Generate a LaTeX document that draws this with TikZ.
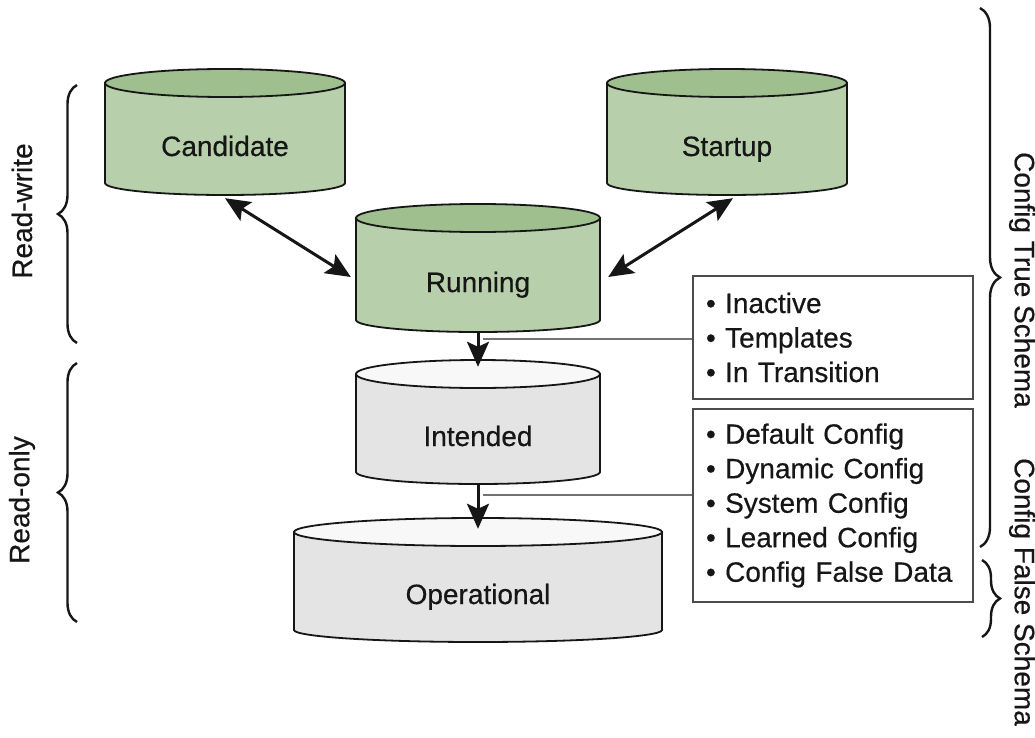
\documentclass[tikz,border=0pt]{standalone}
\usepackage{fontspec}
\setmainfont{Liberation Sans}[FakeBold=0.45]
\usetikzlibrary{arrows.meta,decorations.pathreplacing,fit}

\definecolor{rwbody}{HTML}{B7CFAA}
\definecolor{rwtop}{HTML}{9FBF8F}
\definecolor{robody}{HTML}{E4E4E4}
\definecolor{rotop}{HTML}{F8F8F8}
\definecolor{ink}{HTML}{161616}

% #1 name, #2 centre x, #3 half width, #4 top ellipse centre y,
% #5 lower end of the sides, #6 body colour, #7 lid colour, #8 label
\newcommand{\drum}[8]{%
  \draw[drumline, fill=#6] (#2-#3,#4) -- (#2-#3,#5)
     arc[start angle=180, end angle=360, x radius=#3pt, y radius=12pt]
     -- (#2+#3,#4) -- cycle;
  \draw[drumline, fill=#7] (#2,#4) ellipse[x radius=#3pt, y radius=14pt];
  \node[fit={(#2-#3,#4-14) (#2+#3,#5+12)}, inner sep=0pt] (#1) {};
  \node[drumlabel] (#1-label) at (#2,{(#4+14+#5+12)/2}) {#8};
}

\begin{document}
\begin{tikzpicture}[x=1pt, y=-1pt,
  drumline/.style={draw=ink, line width=1.8pt},
  drumlabel/.style={font=\fontsize{28}{34}\selectfont, text=ink,
    text height=20pt, text depth=0pt, inner sep=0pt},
  tip/.tip={Stealth[length=25pt, width=22pt, inset=5pt]},
  flow/.style={line width=3pt, draw=ink, -tip},
  biflow/.style={line width=3pt, draw=ink, tip-tip},
  feed/.style={draw=black!55, line width=1.8pt},
  listbox/.style={draw=black!70, line width=1.8pt, minimum width=280pt,
    text width=254pt, inner xsep=13pt, inner ysep=0pt, align=left,
    font=\fontsize{28}{34.5}\selectfont, text=ink},
  sidelabel/.style={font=\fontsize{28}{34}\selectfont, text=ink, inner sep=0pt},
  bracket/.style={decorate, decoration={brace, amplitude=#1}, draw=ink, line width=2.4pt},
]
\fill[white] (0,0) rectangle (1035,738);
\useasboundingbox (0,0) rectangle (1035,738);

% datastores
\drum{cand}{225}{120}{83}{183}{rwbody}{rwtop}{Candidate}
\drum{start}{727}{120}{83}{183}{rwbody}{rwtop}{Startup}
\drum{run}{478}{122}{218}{320}{rwbody}{rwtop}{Running}
\drum{int}{478}{122}{374}{472}{robody}{rotop}{Intended}
\drum{oper}{478}{184}{532}{630}{robody}{rotop}{Operational}

% lists of what each step adds
\node[listbox, minimum height=123pt] (extras) at (833,337.5)
  {• Inactive\\• Templates\\• In Transition};
\node[listbox, minimum height=193pt] (derived) at (833,505.5)
  {• Default Config\\• Dynamic Config\\• System Config\\• Learned Config\\• Config False Data};

% data flow
\draw[biflow] ([shift={(0,3)}]cand.south) -- ([shift={(-5,9)}]run.west);
\draw[biflow] ([shift={(6,3)}]start.south) -- ([shift={(8,9)}]run.east);
\draw[flow] (run.south) -- ([shift={(0,7)}]int.north);
\draw[flow] (int.south) -- ([shift={(0,11)}]oper.north);

\coordinate (tap1) at ([shift={(5,7)}]run.south);
\coordinate (tap2) at ([shift={(5,11)}]int.south);
\draw[feed] (tap1) -- (tap1 -| extras.west);
\draw[feed] (tap2) -- (tap2 -| derived.west);

% groupings
\draw[bracket=19pt] (77,343) -- (77,85);
\draw[bracket=19pt] (77,622) -- (77,363);
\draw[bracket=20pt] (980,8) -- (980,547);
\draw[bracket=18pt] (982,560) -- (982,637);

\node[sidelabel, rotate=90] (rw) at (22,211) {Read-write};
\node[sidelabel, rotate=90] (ro) at (22,500) {Read-only};
\node[sidelabel, rotate=-90] (cts) at (1022,280) {Config True Schema};
\node[sidelabel, rotate=-90] (cfs) at (1022,592) {Config False Schema};
\end{tikzpicture}
\end{document}
